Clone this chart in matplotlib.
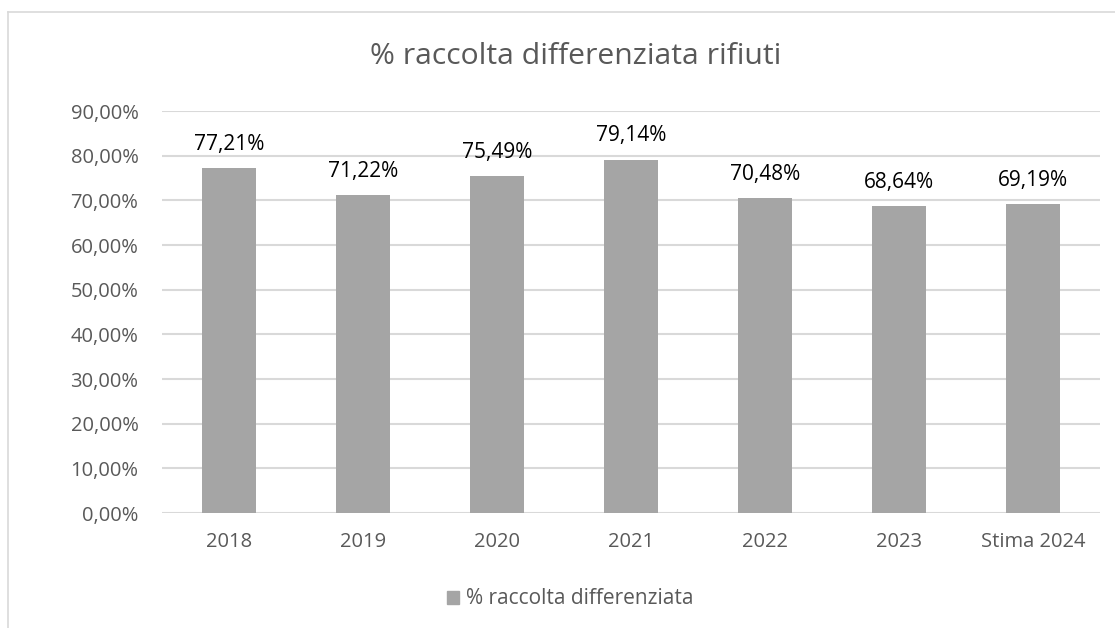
import matplotlib
matplotlib.use("Agg")
import matplotlib.pyplot as plt
from matplotlib.lines import Line2D
from matplotlib.ticker import FuncFormatter, MultipleLocator
from matplotlib.patches import Patch

plt.rcParams["font.family"] = ["Open Sans", "DejaVu Sans"]

categories = ["2018", "2019", "2020", "2021", "2022", "2023", "Stima 2024"]
values = [77.21, 71.22, 75.49, 79.14, 70.48, 68.64, 69.19]
series_name = "% raccolta differenziata"
title = "% raccolta differenziata rifiuti"

BAR = "#a5a5a5"
GRID = "#d9d9d9"
TEXT = "#595959"

W, H = 1115, 628
fig = plt.figure(figsize=(W / 100, H / 100), dpi=100)

# chart frame (only left and top edges visible)
fig.add_artist(Line2D([8 / W, 8 / W], [0, 1 - 12 / H], color=GRID, lw=1.2))
fig.add_artist(Line2D([8 / W, 1], [1 - 12 / H, 1 - 12 / H], color=GRID, lw=1.2))

ax = fig.add_axes([162 / W, 1 - 513 / H, (1100 - 162) / W, (513 - 111) / H])
x = range(len(categories))
ax.bar(x, values, width=0.4, color=BAR, zorder=2)

ax.set_ylim(0, 90)
ax.set_xlim(-0.5, len(categories) - 0.5)
ax.yaxis.set_major_locator(MultipleLocator(10))
ax.yaxis.set_major_formatter(FuncFormatter(lambda v, _: f"{v:.2f}%".replace(".", ",")))
ax.grid(axis="y", color=GRID, lw=1.5, zorder=0)
ax.set_xticks(list(x))
ax.set_xticklabels(categories)
ax.tick_params(length=0, labelsize=14.5, labelcolor=TEXT)
ax.tick_params(axis="x", pad=14)
ax.tick_params(axis="y", pad=17)
for s in ax.spines.values():
    s.set_visible(False)

for xi, v in zip(x, values):
    ax.annotate(f"{v:.2f}%".replace(".", ","), (xi, v), xytext=(0, 13),
                textcoords="offset points", ha="center", va="baseline",
                fontsize=15, color="black")

fig.text(576 / W, 1 - 57 / H, title, ha="center", va="center", fontsize=21.7, color=TEXT)

fig.legend(handles=[Patch(color=BAR, label=series_name)], loc="center",
           bbox_to_anchor=(570 / W, 1 - 599 / H), frameon=False, fontsize=15,
           labelcolor=TEXT, handlelength=0.6, handleheight=0.6, handletextpad=0.3)

fig.savefig("out.png", dpi=100)
